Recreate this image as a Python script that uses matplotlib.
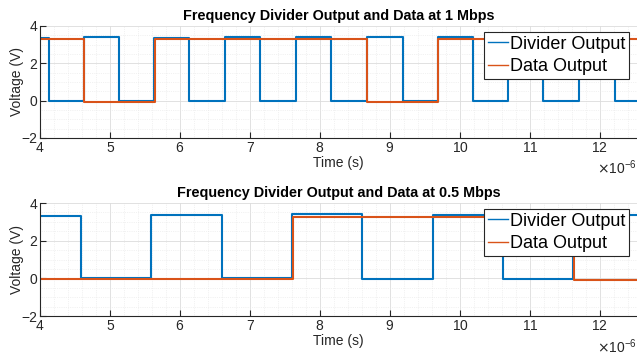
import numpy as np
import matplotlib
matplotlib.use('Agg')
import matplotlib.pyplot as plt
from matplotlib.ticker import MultipleLocator, ScalarFormatter

plt.rcParams['font.family'] = ['Liberation Sans', 'DejaVu Sans']

# transition times in microseconds, levels in volts (step, hold until next time)
div1_t = [4.0, 4.12, 4.62, 5.12, 5.63, 6.13, 6.64, 7.14, 7.65, 8.16, 8.67, 9.18, 9.68, 10.19, 10.69, 11.19, 11.70, 12.21, 12.53]
div1_v = [3.35, -0.05, 3.40, -0.02, 3.35, -0.05, 3.40, -0.03, 3.38, -0.05, 3.40, -0.03, 3.38, -0.05, 3.35, -0.05, 3.35, -0.05, -0.05]
data1_t = [4.0, 4.63, 5.64, 8.67, 9.68, 12.53]
data1_v = [3.28, -0.08, 3.30, -0.08, 3.30, 3.30]

div2_t = [4.0, 4.58, 5.58, 6.60, 7.60, 8.60, 9.61, 10.61, 11.62, 12.53]
div2_v = [3.30, 0.02, 3.38, 0.02, 3.40, -0.05, 3.38, -0.05, 3.35, 3.35]
data2_t = [4.0, 7.61, 11.63, 12.53]
data2_v = [-0.05, 3.25, -0.08, -0.08]

titles = ['Frequency Divider Output and Data at 1 Mbps',
          'Frequency Divider Output and Data at 0.5 Mbps']

blue = (0, 0.447, 0.741)
orange = (0.85, 0.325, 0.098)

fig = plt.figure(figsize=(6.37, 3.6), dpi=100)
ax_top = fig.add_axes([0.063, 0.617, 0.937, 0.311])
ax_bot = fig.add_axes([0.063, 0.122, 0.937, 0.314])

series = [(div1_t, div1_v, data1_t, data1_v), (div2_t, div2_v, data2_t, data2_v)]
for ax, title, (dt, dv, at, av) in zip([ax_top, ax_bot], titles, series):
    ax.step(np.array(dt) * 1e-6, dv, where='post', color=blue, lw=1.5, label='Divider Output')
    ax.step(np.array(at) * 1e-6, av, where='post', color=orange, lw=1.5, label='Data Output')
    ax.set_xlim(4e-6, 12.53e-6)
    ax.set_ylim(-2, 4)
    ax.xaxis.set_major_locator(MultipleLocator(1e-6))
    ax.xaxis.set_minor_locator(MultipleLocator(0.2e-6))
    ax.yaxis.set_major_locator(MultipleLocator(2))
    ax.yaxis.set_minor_locator(MultipleLocator(0.5))
    fmt = ScalarFormatter(useMathText=True)
    fmt.set_powerlimits((-6, -6))
    ax.xaxis.set_major_formatter(fmt)
    ax.xaxis.get_offset_text().set_fontsize(10)
    ax.xaxis.get_offset_text().set_color('#262626')
    ax.grid(which='major', color='#dcdcdc', lw=0.6)
    ax.grid(which='minor', color='#e6e6e6', lw=0.5, ls=':')
    ax.set_axisbelow(True)
    for s in ['top', 'right']:
        ax.spines[s].set_visible(False)
    for s in ['left', 'bottom']:
        ax.spines[s].set_color('#262626')
        ax.spines[s].set_linewidth(0.8)
    ax.tick_params(which='major', direction='in', length=4, labelsize=10, colors='#262626', pad=2)
    ax.tick_params(which='minor', length=0)
    ax.set_title(title, fontsize=10.4, fontweight='bold', pad=4)
    ax.set_xlabel('Time (s)', fontsize=10, color='#262626', labelpad=1)
    ax.set_ylabel('Voltage (V)', fontsize=10, color='#262626')
    ax.yaxis.set_label_coords(-0.027, 0.5)
    leg = ax.legend(loc='upper right', bbox_to_anchor=(0.987, 0.946), fontsize=13,
                    fancybox=False, framealpha=1, edgecolor='#262626',
                    handlelength=1.1, handletextpad=0.15, borderpad=0.2,
                    labelspacing=0.3, borderaxespad=0)
    leg.get_frame().set_linewidth(0.8)
    for h in leg.get_lines():
        h.set_linewidth(1.0)

fig.savefig('out.png', dpi=100)
